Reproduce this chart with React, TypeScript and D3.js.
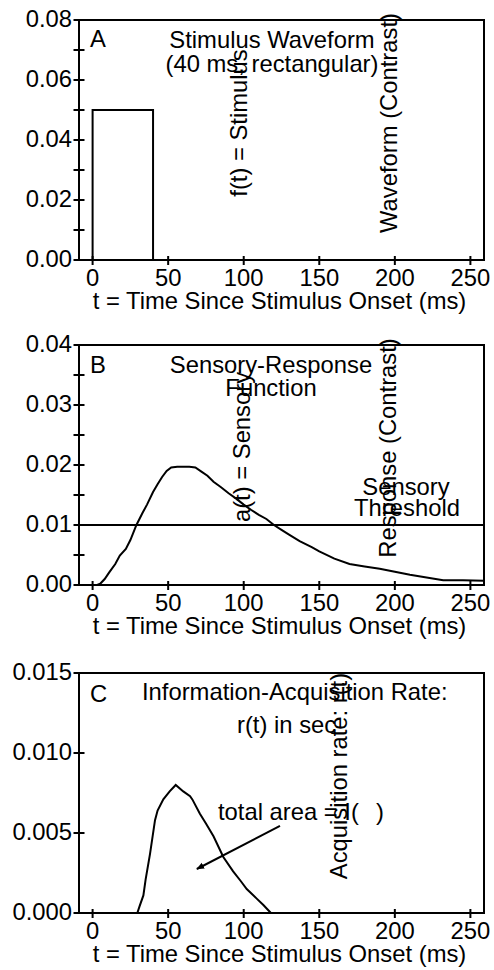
import React from 'react';
import * as d3 from 'd3';

const FONT = '"Liberation Sans", Arial, Helvetica, sans-serif';
const FS = 23.8;

// Shared x axis
const xTicks = [0, 50, 100, 150, 200, 250];
const xDomain: [number, number] = [-9, 259];
const xTitle = 't = Time Since Stimulus Onset (ms)';

// Panel A: stimulus waveform (40 ms rectangular)
const stimT = [0, 0, 40, 40];
const stimV = [0, 0.05, 0.05, 0];
const aMax = 0.08;
const aMajor = [0, 0.02, 0.04, 0.06, 0.08];
const aMinor = [0.01, 0.03, 0.05, 0.07];

// Panel B: sensory response function
const sensT = [3, 5, 8, 11, 15, 18, 22, 25, 29, 33, 36, 40, 43, 46, 49, 52, 56, 60, 64, 68, 72, 76, 80, 85, 90, 95, 100, 105, 110, 115, 120, 125, 130, 137, 145, 150, 160, 170, 180, 190, 200, 210, 217, 225, 232, 245, 259];
const sensV = [0, 0.0002, 0.001, 0.0021, 0.0035, 0.0049, 0.006, 0.0075, 0.01, 0.012, 0.0134, 0.0155, 0.0168, 0.018, 0.019, 0.0196, 0.0197, 0.0197, 0.0197, 0.0196, 0.0189, 0.0182, 0.0172, 0.0163, 0.0153, 0.0144, 0.0134, 0.0125, 0.0117, 0.011, 0.01, 0.0092, 0.0084, 0.0073, 0.0063, 0.0056, 0.0044, 0.0035, 0.0031, 0.0027, 0.0022, 0.0017, 0.0014, 0.0011, 0.0008, 0.0008, 0.0007];
const threshold = 0.01;
const bMax = 0.04;
const bMajor = [0, 0.01, 0.02, 0.03, 0.04];
const bMinor = [0.005, 0.015, 0.025, 0.035];

// Panel C: information-acquisition rate
const rateT = [29.6, 31, 33.6, 35.1, 38, 41.3, 43, 46.8, 51, 55, 60, 64.5, 66, 71, 75, 80, 86.5, 93, 98, 102, 108.6, 113, 118];
const rateV = [0, 0.0004, 0.0011, 0.0021, 0.0037, 0.0058, 0.0064, 0.0071, 0.0076, 0.008, 0.0076, 0.0073, 0.0071, 0.0062, 0.0056, 0.0048, 0.0035, 0.0026, 0.002, 0.0015, 0.0009, 0.0005, 0];
const cMax = 0.015;
const cMajor = [0, 0.005, 0.01, 0.015];
const cMinor: number[] = [];
// arrow annotation in data units: [t, value] from -> to
const arrowFrom = [124, 0.00545];
const arrowTo = [69, 0.00275];

const LEFT = 79;
const RIGHT = 484;

type Sc = d3.ScaleLinear<number, number>;

function Panel(props: {
  top: number;
  bottom: number;
  yMax: number;
  major: number[];
  minor: number[];
  fmt: string;
  children: (x: Sc, y: Sc) => React.ReactNode;
}) {
  const { top, bottom, yMax, major, minor, fmt, children } = props;
  const x = d3.scaleLinear().domain(xDomain).range([LEFT, RIGHT]);
  const y = d3.scaleLinear().domain([0, yMax]).range([bottom, top]);
  const f = d3.format(fmt);
  return (
    <g>
      {children(x, y)}
      <rect x={LEFT} y={top} width={RIGHT - LEFT} height={bottom - top} fill="none" stroke="#000" strokeWidth={2} />
      {[...major, ...minor].map((v, i) => (
        <line key={'yt' + i} x1={LEFT - 5.5} x2={LEFT + 5.5} y1={y(v)} y2={y(v)} stroke="#000" strokeWidth={2} />
      ))}
      {major.map((v, i) => (
        <text key={'yl' + i} x={LEFT - 7} y={y(v) + 6.5} textAnchor="end" fontSize={FS} fontFamily={FONT}>
          {f(v)}
        </text>
      ))}
      {xTicks.map((t, i) => (
        <line key={'xt' + i} x1={x(t)} x2={x(t)} y1={bottom - 4} y2={bottom + 5} stroke="#000" strokeWidth={2} />
      ))}
      {xTicks.map((t, i) => (
        <text key={'xl' + i} x={x(t)} y={bottom + 26} textAnchor="middle" fontSize={FS} fontFamily={FONT}>
          {t}
        </text>
      ))}
      <text x={(LEFT + RIGHT) / 2 - 2} y={bottom + 49} textAnchor="middle" fontSize={FS} fontFamily={FONT}>
        {xTitle}
      </text>
    </g>
  );
}

function T(props: { x: number; y: number; anchor?: string; children: React.ReactNode }) {
  return (
    <text x={props.x} y={props.y} textAnchor={props.anchor || 'start'} fontSize={FS} fontFamily={FONT}>
      {props.children}
    </text>
  );
}

function R(props: { x: number; cy: number; children: React.ReactNode }) {
  return (
    <text transform={`translate(${props.x},${props.cy}) rotate(-90)`} textAnchor="middle" fontSize={FS} fontFamily={FONT}>
      {props.children}
    </text>
  );
}

export default function App() {
  const mkLine = (x: Sc, y: Sc) =>
    d3
      .line<number>()
      .x((d) => x(d))
      .y((_, i) => 0);
  void mkLine;
  const path = (x: Sc, y: Sc, ts: number[], vs: number[]) =>
    d3
      .line<[number, number]>()
      .x((d) => x(d[0]))
      .y((d) => y(d[1]))(ts.map((t, i) => [t, vs[i]] as [number, number])) || '';

  return (
    <svg width={494} height={970} style={{ position: 'absolute', left: 0, top: 0, background: '#fff' }}>
      <defs>
        <marker id="ah" viewBox="0 0 10 10" refX="9" refY="5" markerWidth="8" markerHeight="8" orient="auto" markerUnits="userSpaceOnUse">
          <path d="M0,1 L10,5 L0,9 Z" fill="#000" />
        </marker>
      </defs>
      {/* Panel A */}
      <Panel top={20} bottom={260} yMax={aMax} major={aMajor} minor={aMinor} fmt=".2f">
        {(x, y) => (
          <g>
            <path d={path(x, y, stimT, stimV)} fill="none" stroke="#000" strokeWidth={2} />
            <T x={90} y={47}>A</T>
            <T x={272} y={48} anchor="middle">Stimulus Waveform</T>
            <T x={272} y={72} anchor="middle">(40 ms, rectangular)</T>
            <R x={247} cy={123}>f(t) = Stimulus</R>
            <R x={397} cy={123}>Waveform (Contrast)</R>
          </g>
        )}
      </Panel>
      {/* Panel B */}
      <Panel top={345} bottom={585} yMax={bMax} major={bMajor} minor={bMinor} fmt=".2f">
        {(x, y) => (
          <g>
            <path d={path(x, y, sensT, sensV)} fill="none" stroke="#000" strokeWidth={2} />
            <line x1={LEFT} x2={RIGHT} y1={y(threshold)} y2={y(threshold)} stroke="#000" strokeWidth={2} />
            <T x={90} y={373}>B</T>
            <T x={271} y={373} anchor="middle">Sensory-Response</T>
            <T x={271} y={396} anchor="middle">Function</T>
            <R x={250} cy={447}>a(t) = Sensory</R>
            <R x={396} cy={448}>Response (Contrast)</R>
            <T x={406} y={495} anchor="middle">Sensory</T>
            <T x={407} y={516} anchor="middle">Threshold</T>
          </g>
        )}
      </Panel>
      {/* Panel C */}
      <Panel top={673} bottom={913} yMax={cMax} major={cMajor} minor={cMinor} fmt=".3f">
        {(x, y) => (
          <g>
            <path d={path(x, y, rateT, rateV)} fill="none" stroke="#000" strokeWidth={2} />
            <line
              x1={x(arrowFrom[0])}
              y1={y(arrowFrom[1])}
              x2={x(arrowTo[0])}
              y2={y(arrowTo[1])}
              stroke="#000"
              strokeWidth={2}
              markerEnd="url(#ah)"
            />
            <T x={90} y={702}>C</T>
            <T x={142} y={700}>Information-Acquisition Rate:</T>
            <T x={237} y={733}>r(t) in sec</T>
            <text x={218} y={820} fontSize={FS} fontFamily={FONT}>
              total area = I(<tspan dx={17}>)</tspan>
            </text>
            <R x={347} cy={776}>Acquisition rate: r(t)</R>
          </g>
        )}
      </Panel>
    </svg>
  );
}
